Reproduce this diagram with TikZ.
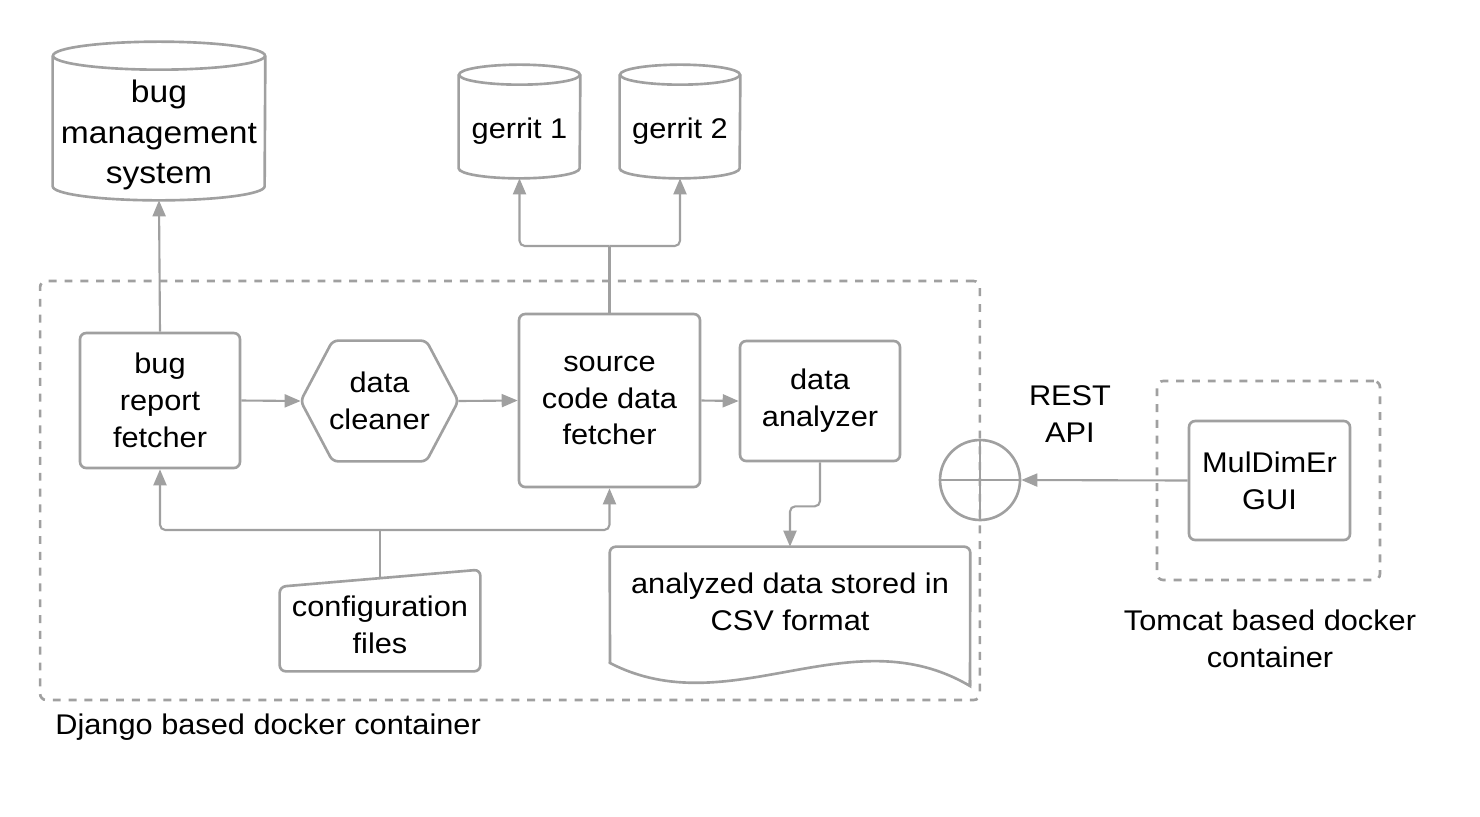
\documentclass[tikz,border=0pt]{standalone}
\usepackage{fontspec}
\setmainfont[FakeStretch=1.08]{Liberation Sans}
\definecolor{lineg}{RGB}{160, 160, 160}
\usepackage{tikz}
\usetikzlibrary{arrows.meta, positioning, calc}

% database cylinder around a named node: node, x radius, y radius
\newcommand{\drawdb}[3]{%
  \draw[shapeline] ([yshift=#3]#1.north west) -- ([yshift=#3]#1.south west)
    arc[start angle=180, end angle=360, x radius=#2, y radius=#3]
    -- ([yshift=#3]#1.north east);
  \draw[shapeline] ([yshift=#3]#1.north) ellipse[x radius=#2, y radius=#3];
}

\begin{document}
\begin{tikzpicture}[
  x=0.02cm, y=-0.02cm,
  every node/.style={font=\fontsize{16.2}{21}\selectfont, align=center, inner sep=0pt},
  shapeline/.style={draw=lineg, line width=1.5pt},
  procbox/.style={shapeline, rounded corners=3.5pt},
  plain/.style={draw=none},
  container/.style={draw=lineg, line width=1.5pt, dash pattern=on 4.5pt off 4.5pt, rounded corners=3.5pt},
  arr/.style={draw=lineg, line width=1.2pt, rounded corners=3pt, -{Triangle[length=0.32cm, width=0.26cm]}},
  link/.style={draw=lineg, line width=1.2pt, rounded corners=3pt}
]
  \useasboundingbox (0,0) rectangle (1480,816);

  % containers
  \node[container, minimum width=18.8cm, minimum height=8.38cm] (django) at (510,490.5) {};
  \node[container, minimum width=4.46cm, minimum height=3.98cm] (tomcat) at (1268.5,480.5) {};
  \node[anchor=west] (djlabel) at (55,727) {Django based docker container};
  \node (tclabel) at (1270,639) {Tomcat based docker\\container};

  % data stores
  \node[plain, minimum width=4.24cm, minimum height=2.6cm, font=\fontsize{17.7}{22.8}\selectfont] (bms) at (159,135) {bug\\management\\system};
  \drawdb{bms}{2.12cm}{0.28cm}
  \node[plain, minimum width=2.42cm, minimum height=1.86cm] (gerrit1) at (519.5,131.5) {gerrit 1};
  \drawdb{gerrit1}{1.21cm}{0.2cm}
  \node[plain, minimum width=2.4cm, minimum height=1.86cm] (gerrit2) at (680,131.5) {gerrit 2};
  \drawdb{gerrit2}{1.2cm}{0.2cm}

  % processing steps
  \node[procbox, minimum width=3.2cm, minimum height=2.7cm] (fetcher) at (160,400.5) {bug\\report\\fetcher};
  \node[plain, minimum width=3.14cm, minimum height=2.4cm] (cleaner) at (379.5,401) {data\\cleaner};
  \draw[shapeline, rounded corners=3pt] (cleaner.west) -- ([xshift=0.64cm]cleaner.north west)
    -- ([xshift=-0.64cm]cleaner.north east) -- (cleaner.east)
    -- ([xshift=-0.64cm]cleaner.south east) -- ([xshift=0.64cm]cleaner.south west) -- cycle;
  \node[procbox, minimum width=3.62cm, minimum height=3.46cm] (srcfetch) at (609.5,400.5) {source\\code data\\fetcher};
  \node[procbox, minimum width=3.2cm, minimum height=2.4cm] (analyzer) at (820,401) {data\\analyzer};

  % configuration files (manual input)
  \node[plain, minimum width=4cm, minimum height=2.02cm] (config) at (380,620.5) {\\[-0.3em]configuration\\files};
  \draw[shapeline, rounded corners=3.5pt] ([yshift=-0.34cm]config.north west) -- (config.north east)
    -- (config.south east) -- (config.south west) -- cycle;

  % output document
  \node[plain, minimum width=7.2cm, minimum height=2.2cm] (csvdoc) at (790,602) {analyzed data stored in\\CSV format};
  \draw[shapeline, rounded corners=3.5pt] (610,663) -- (csvdoc.north west) -- (csvdoc.north east) -- (970,686);
  \draw[shapeline] (610,662) -- (610,663) .. controls (730,725) and (850,615) .. (970,686) -- (970,680);

  % REST interface
  \node[shapeline, circle, minimum size=1.6cm] (rest) at (980,480) {};
  \draw[shapeline] (rest.north) -- (rest.south) (rest.west) -- (rest.east);
  \node (restlabel) at (1070,414) {REST\\API};
  \node[procbox, minimum width=3.22cm, minimum height=2.38cm] (gui) at (1269.5,480.5) {MulDimEr\\GUI};

  % connectors
  \draw[arr] (fetcher.north) -- (bms.south);
  \draw[arr] (fetcher.east) -- (cleaner.west);
  \draw[arr] (cleaner.east) -- (srcfetch.west);
  \draw[arr] (srcfetch.east) -- (analyzer.west);
  \coordinate (gsplit) at (609.5,246);
  \draw[link] (srcfetch.north) -- (gsplit);
  \draw[arr] (gsplit) -| (gerrit1.south);
  \draw[arr] (gsplit) -| (gerrit2.south);
  \coordinate (ctop) at (380,577);
  \coordinate (csplit) at (380,530);
  \draw[link] (ctop) -- (csplit);
  \draw[arr] (csplit) -| (fetcher.south);
  \draw[arr] (csplit) -| (srcfetch.south);
  \draw[arr] (analyzer.south) -- ++(0,44) -| (csvdoc.north);
  \draw[arr] (gui.west) -- (rest.east);
\end{tikzpicture}
\end{document}
